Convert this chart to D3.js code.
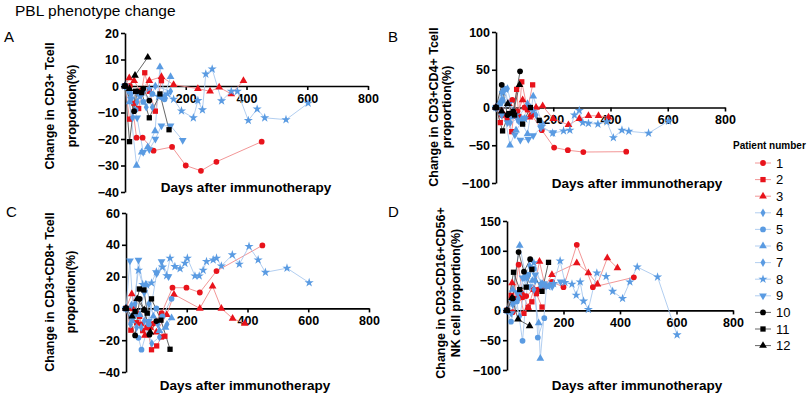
<!DOCTYPE html>
<html>
<head>
<meta charset="utf-8">
<script src="https://cdn.jsdelivr.net/npm/d3@7"></script>
<style>
  body { margin: 0; background: #fff; }
  svg { display: block; }
  text { font-family: "Liberation Sans", Arial, sans-serif; }
</style>
</head>
<body>
<svg id="chart" width="809" height="397"></svg>
<script>
// patients and their marker shape
const patients = ["1", "2", "3", "4", "5", "6", "7", "8", "9", "10", "11", "12"];
const shapes = ["circle", "square", "triangle", "diamond", "circle", "triangle", "diamond", "star", "tridown", "circle", "square", "triangle"];
const xTicks = [0, 200, 400, 600, 800];

// [day, change %] per patient, one list per panel
const panelA = [
    [[0, 0], [16, 0], [38, -19.5], [58, -19.5], [94, -24.4], [155, -23], [200, -30], [250, -32], [301, -28.6], [450, -21]],
    [[0, 0], [15, -12.5], [30, -6.5], [45, -8.5], [65, 5], [80, -2], [100, -9.5], [120, 2]],
    [[0, 0], [14, 3], [30, 2], [50, -2], [80, 2], [120, 3.5], [160, 0.5], [240, -1], [280, -2], [310, -0.5], [350, -3], [390, 2]],
    [[0, 0], [20, -3], [40, -6], [60, -2], [90, -8], [120, -4]],
    [[0, 0], [15, -2], [35, -9], [60, -6], [90, -3], [130, -5]],
    [[0, 0], [15, -6], [38, -30], [55, -25], [75, -23], [99, -17], [115, 7.2], [130, -4], [150, 3.5]],
    [[0, 0], [25, -12], [45, -3], [70, -8], [100, 0], [150, -2]],
    [[0, 0], [20, -3], [50, -4], [80, -1], [110, -4], [140, -3], [160, -5], [186, -9.4], [225, -12], [240, -5.5], [255, -9], [266, 4.5], [287, 6.4], [318, -5.6], [350, -2], [370, -2], [406, -13], [435, -8.7], [460, -12], [530, -12.7], [603, -6.5]],
    [[0, 0], [20, -5], [40, -12], [60, -25], [80, -24], [100, -20], [120, -15], [150, -15], [190, -20.5]],
    [[0, 0], [30, -9.5], [40, -2], [60, -1], [80, -5.5]],
    [[0, 0], [15, -21], [35, -2], [55, -2.5], [80, -12], [115, -3], [145, -16.5]],
    [[0, 0], [15, -1], [33, 4], [75, 10.8]]
];

const panelB = [
    [[0, 0], [20, -10], [40, -15], [57, 10], [75, -5], [100, 0], [125, -10], [160, -30], [203, -53], [251, -56.6], [305, -59], [455, -58.5]],
    [[0, 0], [15, -20], [30, -10], [55, -32], [72, 24], [80, -12], [90, 34], [110, -3], [128, 30]],
    [[0, 0], [20, -5], [45, 5], [70, -12], [93, 10], [117, -13], [140, 0], [163, 2], [200, -15], [253, -23], [291, -15], [323, -11], [358, -11], [393, -13]],
    [[0, 0], [20, 20], [40, 25], [60, -5], [90, -15], [120, 0]],
    [[0, 0], [15, 5], [30, 25], [55, -12], [80, -18], [100, -14]],
    [[0, 0], [20, 10], [49, -50], [70, -30], [90, -20], [110, -35], [130, 15], [160, -20]],
    [[0, 0], [25, 10], [50, -20], [75, -15], [110, 5], [140, -10]],
    [[0, 0], [25, 20], [45, 5], [70, -10], [100, -15], [130, -5], [160, -25], [198, -34], [236, -31], [258, -30], [274, -10], [291, -4], [303, -20], [323, -21], [356, -22], [387, -19], [410, -40], [440, -30], [464, -31.5], [533, -34], [603, -18]],
    [[0, 0], [20, -10], [40, -20], [66, -36], [85, -43], [113, -42], [130, -37], [157, -27], [200, -33]],
    [[0, 0], [20, 30], [40, -10], [60, -5], [84, 48]],
    [[0, 0], [23, -31], [45, -8], [65, -10], [93, -22], [120, 0], [151, -17]],
    [[0, 0], [20, -5], [41, 5], [60, -8], [82, 30]]
];

const panelC = [
    [[0, 0], [19, 0], [50, -10], [70, -12], [90, -9.5], [117, -3], [153, 13], [199, 13], [243, 10], [298, 23.5], [449, 39.6]],
    [[0, 0], [16, -13.7], [35, -9], [45, -5], [55, -14], [70, -12], [84, -26], [101, -23.6], [117, -18], [128, -17.5]],
    [[0, 0], [19, 9], [40, -4], [62, -17], [80, -12], [100, -15], [134, -4], [158, 8.8], [243, 0], [285, 14], [314, 0], [351, -6.3], [391, -9.5]],
    [[0, 0], [15, -10], [30, 3], [50, -12], [75, 3], [105, -10]],
    [[0, 0], [20, -5], [41, -18.5], [51, -26], [75, -10], [100, 0], [120, -5], [150, 6]],
    [[0, 0], [20, -8], [45, -4], [65, 15], [90, -5], [110, -14], [130, -12], [150, -6]],
    [[0, 0], [18, 2], [35, -12], [60, -8], [85, -22], [110, -18], [135, -10]],
    [[0, 0], [20, -5], [41, 24], [55, 15], [68, 14.7], [84, 16], [100, 23], [120, 26], [134, 20.6], [145, 31.6], [161, 26.3], [178, 25], [194, 28.4], [202, 31.6], [227, 20.4], [241, 20.4], [254, 24], [265, 29.5], [287, 30.5], [298, 31.6], [314, 26.7], [350, 33.7], [373, 27.8], [405, 39], [435, 30.5], [459, 22.7], [530, 25.3], [603, 16.2]],
    [[0, 0], [13, 30], [25, -5], [41, 30.5], [60, 10], [75, -8], [101, 22], [117, 29.5], [140, 20]],
    [[0, 0], [30, -17], [45, 6], [60, -1], [77, -16.5], [100, -8]],
    [[0, 0], [30, -2], [44, 12.2], [59, 11.6], [70, -3], [84, 6], [115, -7.4], [145, -25.7]],
    [[0, 0], [20, -5], [37, 6], [60, -1], [80, -15]]
];

const panelD = [
    [[0, 0], [20, -3], [41, 76.7], [55, 22], [68, 24], [94, 35], [110, 35], [159, 48], [200, 39], [247, 110], [304, 39], [449, 55.5]],
    [[0, 0], [15, 25], [30, 20], [45, 28], [60, -5], [75, 5], [88, 14.4], [104, 28], [124, 5.6]],
    [[0, 0], [18, 46], [35, 20], [55, 28], [75, 5], [95, 35], [115, 82], [135, 40], [159, 60], [247, 79.4], [288, 62.8], [320, 44], [355, 87.8], [391, 71]],
    [[0, 0], [20, 10], [40, 20], [60, 55], [80, 75], [100, 50], [125, 45]],
    [[0, 0], [14, -19], [35, 15], [55, -51], [75, 60], [95, 70], [109, -45.6], [132, -13]],
    [[0, 0], [20, 35], [45, 109], [65, 60], [90, 50], [112, -21], [118, -80.6], [140, 40]],
    [[0, 0], [25, 15], [45, -10], [70, 55], [95, 35], [120, 40], [150, 42]],
    [[0, 0], [20, 15], [45, 30], [70, 55], [95, 80], [120, 45], [145, 40], [165, 45], [188, 83], [205, 47], [230, 44], [245, 25.6], [259, 47.8], [271, 15.6], [288, 1.7], [318, 62.8], [351, 57], [374, 32], [409, 20], [435, 47.8], [461, 72.8], [533, 56], [602, -41]],
    [[0, 0], [15, -5], [35, 30], [55, 55], [80, 40], [100, 60], [130, 45], [160, 40], [190, 48]],
    [[0, 0], [20, 20], [41, 97.8], [60, 65], [82, 86]],
    [[0, 0], [23, 64], [45, 35], [68, 39], [88, 69], [124, 32], [147, 80.6]],
    [[0, 0], [18, 21], [39, -15], [80, -26]]
];

const yTicksA = [20, 10, 0, -10, -20, -30, -40];
const yTicksB = [100, 50, 0, -50, -100];
const yTicksC = [60, 40, 20, 0, -20, -40];
const yTicksD = [150, 100, 50, 0, -50, -100];

// colours by patient group: 1-3 red, 4-9 blue, 10-12 black
function markColor(i) { return i < 3 ? "#e8131b" : (i < 9 ? "#5a9be2" : "#000"); }
function lineColor(i) { return i < 3 ? "#f08a8a" : (i < 9 ? "#a9c8ee" : "#555"); }

function symbolFor(shape) {
    let s;
    if (shape === "circle") s = d3.symbol(d3.symbolCircle, 26);
    else if (shape === "square") s = d3.symbol(d3.symbolSquare, 28);
    else if (shape === "triangle" || shape === "tridown") s = d3.symbol(d3.symbolTriangle, 26);
    else if (shape === "diamond") s = d3.symbol(d3.symbolDiamond, 22);
    else s = d3.symbol(d3.symbolStar, 26);
    return s();
}

const svg = d3.select("#chart");

svg.append("text")
    .attr("x", 15).attr("y", 16)
    .style("font-size", "15.5px")
    .text("PBL phenotype change");

const panels = [
    { letter: "A", data: panelA, yTicks: yTicksA, left: 125, right: 368, top: 33, bottom: 192, lx: 4, ly: 42,
      ylab: ["Change in CD3+ Tcell", "proportion(%)"], ylabX: [54, 76], ylabY: 106, xlabX: 246, xlabY: 192 },
    { letter: "B", data: panelB, yTicks: yTicksB, left: 496, right: 725, top: 32, bottom: 183, lx: 388, ly: 42,
      ylab: ["Change in CD3+CD4+ Tcell", "proportion(%)"], ylabX: [438, 451], ylabY: 107, xlabX: 637, xlabY: 188 },
    { letter: "C", data: panelC, yTicks: yTicksC, left: 126, right: 369, top: 213, bottom: 372, lx: 6, ly: 217,
      ylab: ["Change in CD3+CD8+ Tcell", "proportion(%)"], ylabX: [54, 75], ylabY: 292, xlabX: 245, xlabY: 390 },
    { letter: "D", data: panelD, yTicks: yTicksD, left: 507, right: 733, top: 221, bottom: 370, lx: 388, ly: 217,
      ylab: ["Change in CD3-CD16+CD56+", "NK cell proportion(%)"], ylabX: [445, 460], ylabY: 293, xlabX: 637, xlabY: 390 }
];

panels.forEach(function (p) {
    const x = d3.scaleLinear().domain([0, 800]).range([p.left, p.right]);
    const y = d3.scaleLinear().domain(d3.extent(p.yTicks)).range([p.bottom, p.top]);
    const g = svg.append("g");

    g.append("text").attr("x", p.lx).attr("y", p.ly)
        .style("font-size", "15px").text(p.letter);

    // axes
    const yAxis = g.append("g")
        .attr("transform", `translate(${p.left},0)`)
        .call(d3.axisLeft(y).tickValues(p.yTicks).tickSize(4).tickSizeOuter(0).tickPadding(2));
    const xAxis = g.append("g")
        .attr("transform", `translate(0,${y(0)})`)
        .call(d3.axisBottom(x).tickValues(xTicks).tickSize(4).tickSizeOuter(0).tickPadding(4)
            .tickFormat(function (d) { return d === 0 ? "" : d; }));
    [yAxis, xAxis].forEach(function (a) {
        a.select(".domain").attr("stroke", "#000").attr("stroke-width", 1.6);
        a.selectAll(".tick line").attr("stroke", "#000").attr("stroke-width", 1.6);
        a.selectAll(".tick text").attr("fill", "#000")
            .style("font-size", "12.5px").style("font-weight", "bold")
            .style("font-family", "'Liberation Sans', Arial, sans-serif");
    });

    // axis titles
    p.ylab.forEach(function (t, k) {
        g.append("text")
            .attr("transform", `translate(${p.ylabX[k]},${p.ylabY}) rotate(-90)`)
            .style("text-anchor", "middle")
            .style("font-size", "12.5px").style("font-weight", "bold")
            .text(t);
    });
    g.append("text")
        .attr("x", p.xlabX).attr("y", p.xlabY)
        .style("text-anchor", "middle")
        .style("font-size", "13.5px").style("font-weight", "bold")
        .text("Days after immunotherapy");

    // series
    const line = d3.line().x(function (d) { return x(d[0]); }).y(function (d) { return y(d[1]); });
    p.data.forEach(function (series, i) {
        g.append("path")
            .datum(series)
            .attr("fill", "none")
            .attr("stroke", lineColor(i))
            .attr("stroke-width", 0.9)
            .attr("d", line);
    });
    p.data.forEach(function (series, i) {
        g.selectAll(null)
            .data(series)
            .enter()
            .append("path")
            .attr("d", symbolFor(shapes[i]))
            .attr("fill", markColor(i))
            .attr("transform", function (d) {
                return `translate(${x(d[0])},${y(d[1])})` + (shapes[i] === "tridown" ? " rotate(180)" : "");
            });
    });
});

// legend
const legend = svg.append("g");
legend.append("text").attr("x", 733).attr("y", 149)
    .style("font-size", "10px").style("font-weight", "bold").text("Patient number");
patients.forEach(function (name, i) {
    const ly = 163 + i * 16.6;
    legend.append("line")
        .attr("x1", 755).attr("x2", 771).attr("y1", ly).attr("y2", ly)
        .attr("stroke", lineColor(i)).attr("stroke-width", 0.9);
    legend.append("path")
        .attr("d", symbolFor(shapes[i]))
        .attr("fill", markColor(i))
        .attr("transform", `translate(763,${ly})` + (shapes[i] === "tridown" ? " rotate(180)" : ""));
    legend.append("text")
        .attr("x", 776).attr("y", ly + 4.5)
        .style("font-size", "13px")
        .text(name);
});
</script>
</body>
</html>
